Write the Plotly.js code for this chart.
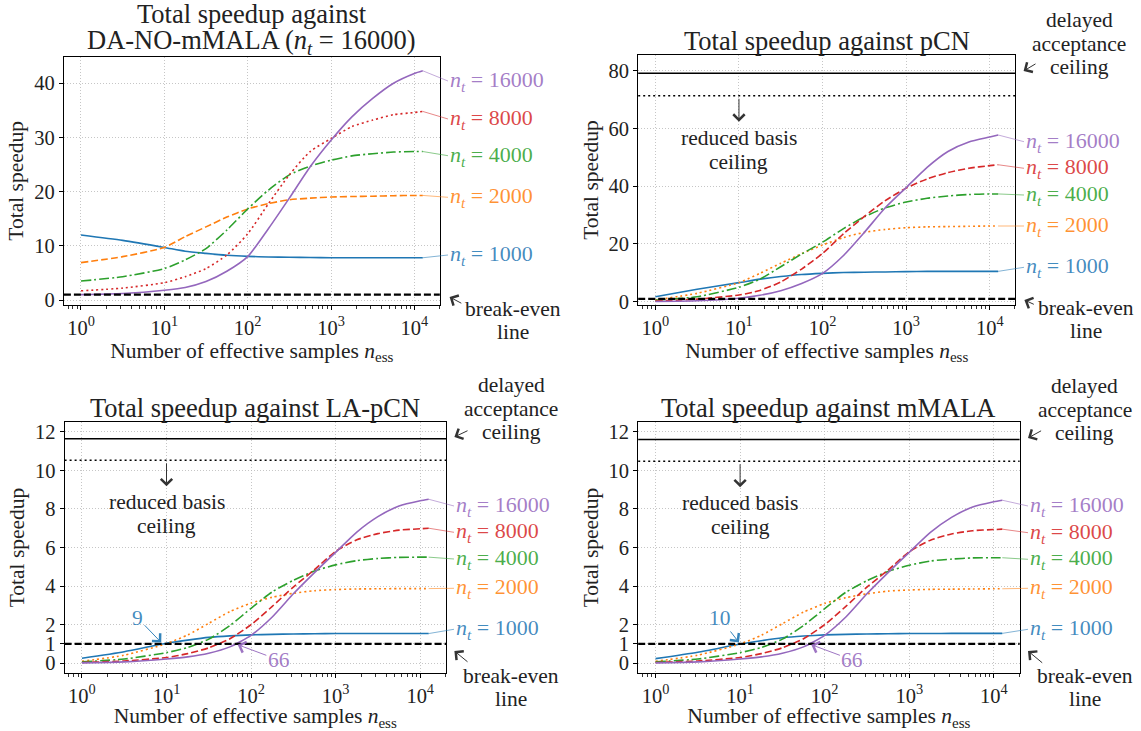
<!DOCTYPE html>
<html><head><meta charset="utf-8">
<script src="https://cdn.plot.ly/plotly-3.0.1.min.js"></script>
<style>html,body{margin:0;padding:0;background:#fff}#chart{width:1141px;height:731px}</style>
</head><body><div id="chart"></div>
<script>
// ---------------- data ----------------
const nEss = [1, 3.16, 10, 17.8, 31.6, 56.2, 100, 178, 316, 562, 1000, 1780, 3160, 5620, 10000, 12600];
const ntValues = [1000, 2000, 4000, 8000, 16000];

// vs DA-NO-mMALA (n_t = 16000)
const daNo_1000  = [12.0, 11.0, 9.7, 9.0, 8.6, 8.25, 8.05, 7.95, 7.9, 7.85, 7.8, 7.8, 7.8, 7.8, 7.8, 7.8];
const daNo_2000  = [6.9, 8.0, 9.7, 11.7, 13.5, 15.3, 16.8, 17.8, 18.5, 18.8, 19.0, 19.1, 19.15, 19.25, 19.3, 19.3];
const daNo_4000  = [3.5, 4.3, 5.8, 7.4, 9.5, 12.9, 16.8, 20.3, 23.1, 24.7, 25.8, 26.6, 27.0, 27.3, 27.4, 27.4];
const daNo_8000  = [1.7, 2.2, 3.2, 4.3, 5.8, 8.3, 12.2, 17.8, 23.1, 27.4, 29.8, 32.0, 33.2, 34.2, 34.6, 34.8];
const daNo_16000 = [1.0, 1.2, 1.8, 2.3, 3.4, 5.3, 8.0, 13.2, 18.8, 24.6, 29.5, 33.8, 37.2, 40.0, 41.8, 42.3];

// vs pCN
const pcn_1000  = [1.7, 4.3, 6.6, 7.8, 8.7, 9.4, 9.8, 10.1, 10.2, 10.3, 10.4, 10.5, 10.5, 10.5, 10.5, 10.5];
const pcn_2000  = [0.6, 2.9, 6.6, 9.8, 13.3, 16.6, 19.6, 22.2, 24.0, 25.0, 25.6, 25.9, 26.0, 26.1, 26.2, 26.2];
const pcn_4000  = [0.5, 1.7, 5.0, 7.8, 12.1, 16.5, 20.6, 25.3, 29.4, 32.5, 34.5, 35.8, 36.6, 37.1, 37.3, 37.3];
const pcn_8000  = [0.2, 0.9, 2.3, 3.9, 6.8, 11.3, 16.7, 23.5, 29.5, 35.0, 39.3, 42.5, 44.7, 46.2, 47.1, 47.4];
const pcn_16000 = [0.05, 0.3, 1.2, 2.2, 3.8, 6.3, 9.8, 16.0, 24.0, 32.5, 39.5, 46.5, 52.0, 55.3, 57.0, 57.7];

// vs LA-pCN
const lapcn_1000  = [0.26, 0.6, 1.04, 1.2, 1.34, 1.42, 1.47, 1.5, 1.52, 1.53, 1.54, 1.54, 1.54, 1.54, 1.54, 1.54];
const lapcn_2000  = [0.1, 0.42, 1.02, 1.47, 2.07, 2.68, 3.12, 3.42, 3.63, 3.76, 3.82, 3.85, 3.86, 3.87, 3.87, 3.87];
const lapcn_4000  = [0.07, 0.22, 0.55, 0.82, 1.25, 1.95, 2.85, 3.7, 4.3, 4.78, 5.1, 5.32, 5.43, 5.49, 5.5, 5.5];
const lapcn_8000  = [0.04, 0.12, 0.3, 0.5, 0.8, 1.27, 2.0, 2.95, 3.95, 4.85, 5.8, 6.4, 6.72, 6.9, 6.97, 7.0];
const lapcn_16000 = [0.02, 0.07, 0.22, 0.33, 0.52, 0.85, 1.45, 2.4, 3.6, 4.7, 5.75, 6.8, 7.6, 8.15, 8.42, 8.5];

// vs mMALA
const mmala_1000  = [0.24, 0.57, 1.0, 1.17, 1.32, 1.41, 1.47, 1.5, 1.52, 1.53, 1.54, 1.54, 1.55, 1.55, 1.55, 1.55];
const mmala_2000  = [0.1, 0.42, 1.0, 1.45, 2.05, 2.65, 3.1, 3.4, 3.6, 3.74, 3.8, 3.83, 3.84, 3.85, 3.86, 3.86];
const mmala_4000  = [0.07, 0.22, 0.55, 0.82, 1.25, 1.95, 2.83, 3.68, 4.28, 4.76, 5.08, 5.3, 5.4, 5.46, 5.47, 5.47];
const mmala_8000  = [0.04, 0.12, 0.3, 0.5, 0.8, 1.27, 2.0, 2.95, 3.95, 4.83, 5.78, 6.38, 6.7, 6.87, 6.93, 6.95];
const mmala_16000 = [0.02, 0.07, 0.22, 0.33, 0.52, 0.85, 1.45, 2.4, 3.6, 4.7, 5.75, 6.78, 7.56, 8.1, 8.37, 8.45];

const panelTitles = [
  ['Total speedup against', 'DA-NO-mMALA (<i>n</i><sub><i>t</i></sub> = 16000)'],
  ['Total speedup against pCN'],
  ['Total speedup against LA-pCN'],
  ['Total speedup against mMALA']
];
const breakEven = 1;
const daCeiling = [null, 79.1, 11.64, 11.6];
const rbCeiling = [null, 71.3, 10.52, 10.47];
const crossings = [null, null, [9, 66], [10, 66]];
const xTickVals = [1, 10, 100, 1000, 10000];
const xTickText = ['10<sup>0</sup>', '10<sup>1</sup>', '10<sup>2</sup>', '10<sup>3</sup>', '10<sup>4</sup>'];
const yTickVals = [[0,10,20,30,40],[0,20,40,60,80],[0,1,2,4,6,8,10,12],[0,1,2,4,6,8,10,12]];

const panelSeries = [
  [daNo_1000, daNo_2000, daNo_4000, daNo_8000, daNo_16000],
  [pcn_1000, pcn_2000, pcn_4000, pcn_8000, pcn_16000],
  [lapcn_1000, lapcn_2000, lapcn_4000, lapcn_8000, lapcn_16000],
  [mmala_1000, mmala_2000, mmala_4000, mmala_8000, mmala_16000]
];

// ---------------- styling / layout ----------------
const W = 1141, H = 731;
const COLORS = [[31,119,180],[255,127,14],[44,160,44],[214,39,40],[148,103,189]];
const rgba = (c,a)=>`rgba(${c[0]},${c[1]},${c[2]},${a})`;
const DASH_A = ['solid','7px,3px','10px,3px,2px,3px','2px,3px','solid'];
const DASH_B = ['solid','2px,3px','10px,3px,2px,3px','7px,3px','solid'];
const XR = [-0.205, 4.305];
const PANELS = [
  {l:63.9, r:439.8, t:56.7, b:305, yr:[-0.92,44.9]},
  {l:638.2, r:1015.3, t:55, b:305, yr:[-1.15,85.4]},
  {l:64.6, r:446, t:421.7, b:673.3, yr:[-0.52,12.52]},
  {l:638.2, r:1019.6, t:421.7, b:673.3, yr:[-0.52,12.52]}
];
const labelX = [448, 1024, 454, 1028];
const labelY = [
  [255, 197.3, 155.7, 119, 81],
  [267.3, 226, 195, 168.3, 141.7],
  [629.3, 588.3, 559, 532.3, 506],
  [629.3, 588.3, 559.3, 532.7, 506]
];
const FONT = '"Liberation Serif", "Times New Roman", serif';
const TXT = '#222';
const FS = 21.5;

function toPx(p, x, y){
  const P = PANELS[p];
  return [P.l + (Math.log10(x)-XR[0])/(XR[1]-XR[0])*(P.r-P.l),
          P.b - (y-P.yr[0])/(P.yr[1]-P.yr[0])*(P.b-P.t)];
}
function txt(X, Y, text, size, color, extra){
  return Object.assign({xref:'paper', yref:'paper', x:X/W, y:1-Y/H, text, showarrow:false,
    xanchor:'center', yanchor:'middle', font:{size, color, family:FONT}}, extra||{});
}
function arrow(hx, hy, tx, ty, color){
  return {xref:'paper', yref:'paper', x:hx/W, y:1-hy/H, ax:tx-hx, ay:ty-hy, axref:'pixel', ayref:'pixel',
    text:'', showarrow:true, arrowhead:4, arrowsize:2.2, arrowwidth:1, arrowcolor:color};
}

const minorVals = [];
for (let e = -1; e <= 4; e++) for (let m = 2; m <= 9; m++) {
  const v = m*Math.pow(10,e);
  if (Math.log10(v) > XR[0] && Math.log10(v) < XR[1]) minorVals.push(v);
}

const traces = [];
const layout = {
  width: W, height: H, margin:{l:0,r:0,t:0,b:0}, showlegend:false,
  paper_bgcolor:'#fff', plot_bgcolor:'#fff',
  font:{family:FONT, color:TXT, size:FS},
  shapes:[], annotations:[]
};

for (let p = 0; p < 4; p++){
  const sfx = p===0 ? '' : String(p+1);
  const P = PANELS[p];
  layout['xaxis'+sfx] = {
    type:'log', range:XR, domain:[P.l/W, P.r/W], anchor:'y'+sfx,
    showline:true, mirror:true, linecolor:'#000', linewidth:1.1,
    ticks:'outside', ticklen:4, tickwidth:1, tickcolor:'#000',
    tickmode:'array', tickvals:xTickVals, ticktext:xTickText, tickfont:{size:20.5, color:TXT, family:FONT},
    showgrid:true, gridcolor:'#b8b8b8', gridwidth:0.8, griddash:'1px,2px', zeroline:false,
    minor:{tickmode:'array', tickvals:minorVals, ticks:'outside', ticklen:2.5, tickwidth:0.8, tickcolor:'#000', showgrid:false},
    title:{text:'Number of effective samples <i>n</i><sub>ess</sub>', font:{size:FS, color:TXT, family:FONT}, standoff:0}
  };
  layout['yaxis'+sfx] = {
    range:P.yr, domain:[1-P.b/H, 1-P.t/H], anchor:'x'+sfx,
    showline:true, mirror:true, linecolor:'#000', linewidth:1.1,
    ticks:'outside', ticklen:4, tickwidth:1, tickcolor:'#000',
    tickmode:'array', tickvals:yTickVals[p], tickfont:{size:20.5, color:TXT, family:FONT},
    showgrid:true, gridcolor:'#b8b8b8', gridwidth:0.8, griddash:'1px,2px', zeroline:false,
    title:{text:'Total speedup', font:{size:FS, color:TXT, family:FONT}, standoff:4}
  };

  const dashes = p===0 ? DASH_A : DASH_B;
  panelSeries[p].forEach((ys, k) => {
    traces.push({type:'scatter', mode:'lines', x:nEss, y:ys, xaxis:'x'+sfx, yaxis:'y'+sfx,
      name:'n_t = '+ntValues[k], line:{color:rgba(COLORS[k],1), width:1.6, dash:dashes[k], shape:'spline', smoothing:0.6},
      hoverinfo:'skip'});
    const xe = nEss[nEss.length-1], ye = ys[ys.length-1];
    const [hx, hy] = toPx(p, xe, ye);
    layout.annotations.push({xref:'x'+sfx, yref:'y'+sfx, x:Math.log10(xe), y:ye,
      ax:labelX[p]-hx, ay:labelY[p][k]-hy, axref:'pixel', ayref:'pixel',
      text:'<i>n</i><sub><i>t</i></sub> = '+ntValues[k], xanchor:'left', yanchor:'middle',
      showarrow:true, arrowhead:0, arrowwidth:1, arrowcolor:rgba(COLORS[k],0.55),
      font:{size:22, color:rgba(COLORS[k],0.85), family:FONT}});
  });

  layout.shapes.push({type:'line', xref:'x'+sfx+' domain', yref:'y'+sfx, x0:0, x1:1, y0:breakEven, y1:breakEven,
    line:{color:'#000', width:2.3, dash:'7px,3px'}});
  if (daCeiling[p] !== null){
    layout.shapes.push({type:'line', xref:'x'+sfx+' domain', yref:'y'+sfx, x0:0, x1:1, y0:daCeiling[p], y1:daCeiling[p],
      line:{color:'#000', width:1.5}});
    layout.shapes.push({type:'line', xref:'x'+sfx+' domain', yref:'y'+sfx, x0:0, x1:1, y0:rbCeiling[p], y1:rbCeiling[p],
      line:{color:'#000', width:1.5, dash:'2px,3px'}});
  }

  const cx = (P.l+P.r)/2;
  if (panelTitles[p].length === 2){
    layout.annotations.push(txt(cx, 14, panelTitles[p][0], 26.5, TXT));
    layout.annotations.push(txt(cx, 42, panelTitles[p][1], 26.5, TXT));
  } else {
    layout.annotations.push(txt(cx, P.t - 14, panelTitles[p][0], 26.5, TXT));
  }
}

const beText = [[512.8,309],[1086,308],[511,676],[1084.6,676]];
const beArrow = [[449.6,297,462.8,304],[1024.4,300,1035.3,305],[454.4,651,469,663],[1028,651,1043.7,664]];
for (let p = 0; p < 4; p++){
  layout.annotations.push(txt(beText[p][0], beText[p][1], 'break-even', FS, TXT));
  layout.annotations.push(txt(beText[p][0], beText[p][1]+23, 'line', FS, TXT));
  const a = beArrow[p];
  layout.annotations.push(arrow(a[0], a[1], a[2], a[3], '#333'));
}
const daText = [null, [1079, 20], [511, 385], [1084.6, 386]];
const daArrow = [null, [1023.6,71,1037,63], [454.4,437,469,430], [1028,438,1042.6,430]];
for (let p = 1; p < 4; p++){
  const [x0, y0] = daText[p];
  layout.annotations.push(txt(x0, y0, 'delayed', FS, TXT));
  layout.annotations.push(txt(x0, y0+23.5, 'acceptance', FS, TXT));
  layout.annotations.push(txt(x0, y0+47, 'ceiling', FS, TXT));
  const a = daArrow[p];
  layout.annotations.push(arrow(a[0], a[1], a[2], a[3], '#333'));
  const [rx, ry] = toPx(p, 10, rbCeiling[p]);
  layout.annotations.push(arrow(rx, ry+26, rx, ry+1.5, '#333'));
  layout.annotations.push(txt(rx, ry+42, 'reduced basis', FS, TXT));
  layout.annotations.push(txt(rx, ry+66, 'ceiling', FS, TXT));
}
const crossTextOff = [null, null, [[-25,-26],[43,16]], [[-20,-26],[43,16]]];
for (let p = 2; p < 4; p++){
  const sfx = String(p+1);
  crossings[p].forEach((cv, j) => {
    const col = j===0 ? COLORS[0] : COLORS[4];
    layout.annotations.push({xref:'x'+sfx, yref:'y'+sfx, x:Math.log10(cv), y:breakEven,
      ax:crossTextOff[p][j][0], ay:crossTextOff[p][j][1], axref:'pixel', ayref:'pixel',
      text:String(cv), showarrow:true, arrowhead:4, arrowsize:2.2, arrowwidth:1, standoff:2,
      arrowcolor:rgba(col,0.9), font:{size:FS, color:rgba(col,0.85), family:FONT}});
  });
}

Plotly.newPlot('chart', traces, layout, {staticPlot:true, displayModeBar:false});
</script>
</body></html>
